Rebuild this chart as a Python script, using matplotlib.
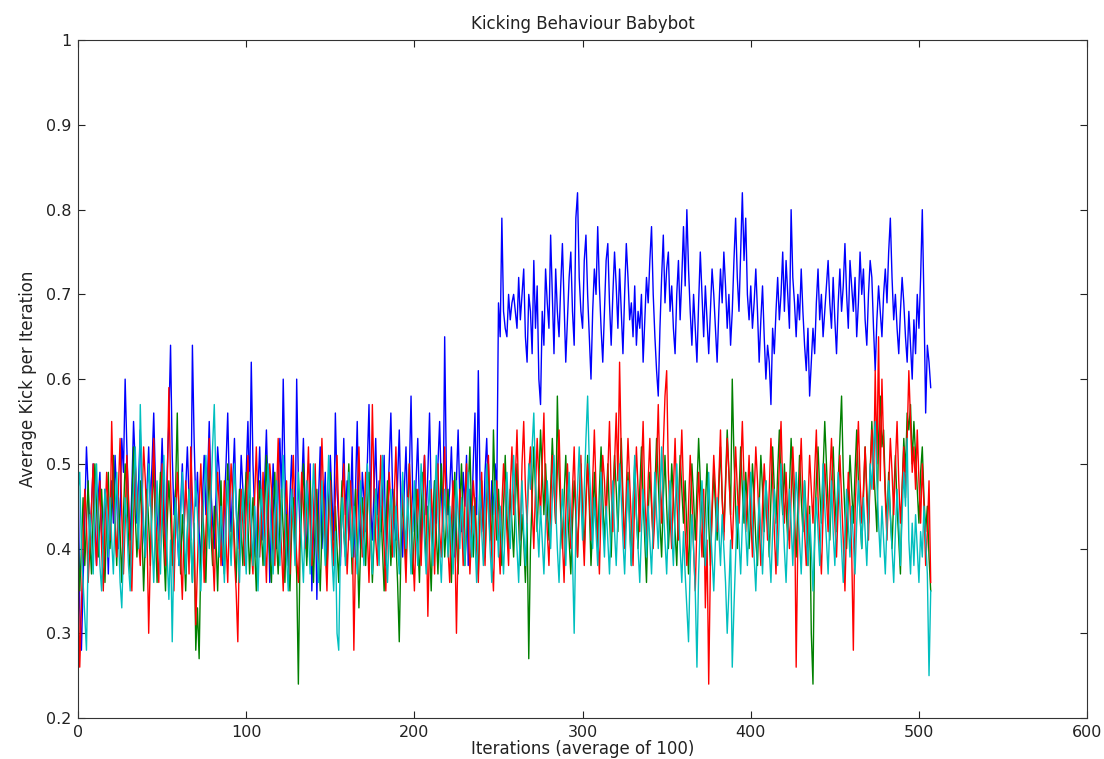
import numpy as np
import matplotlib
matplotlib.use("Agg")
import matplotlib.pyplot as plt

# average kicks per iteration, stored in hundredths
blue_pct = [
    50, 33, 28, 36, 44, 52, 47, 41, 45, 50, 43, 38, 46, 49, 42, 40, 47, 44, 37, 45,
    48, 43, 51, 46, 40, 44, 53, 49, 60, 52, 45, 41, 47, 55, 50, 43, 48, 54, 46, 42,
    39, 47, 52, 45, 50, 56, 48, 44, 41, 47, 53, 46, 40, 49, 55, 64, 51, 44, 47, 42,
    38, 45, 50, 43, 47, 52, 46, 41, 64, 53, 45, 49, 42, 38, 46, 51, 44, 48, 55, 47,
    43, 40, 46, 52, 49, 44, 38, 45, 50, 56, 47, 42, 48, 53, 45, 40, 44, 51, 47, 43,
    49, 55, 46, 62, 50, 44, 39, 47, 52, 45, 41, 48, 54, 46, 36, 43, 50, 45, 40, 47,
    53, 46, 60, 49, 43, 38, 46, 51, 44, 40, 60, 48, 42, 47, 53, 45, 39, 44, 50, 35,
    42, 48, 34, 46, 52, 40, 44, 49, 37, 45, 51, 46, 41, 56, 47, 43, 38, 46, 53, 44,
    48, 41, 45, 52, 39, 47, 55, 44, 40, 49, 46, 42, 50, 57, 45, 41, 47, 53, 44, 48,
    42, 46, 51, 38, 45, 50, 56, 47, 43, 41, 48, 54, 45, 39, 47, 52, 44, 49, 58, 46,
    42, 48, 53, 45, 40, 47, 51, 44, 49, 56, 46, 41, 48, 43, 50, 55, 47, 42, 65, 49,
    44, 47, 52, 45, 39, 48, 54, 46, 42, 49, 45, 51, 38, 47, 43, 50, 56, 44, 61, 48,
    45, 42, 49, 53, 46, 41, 48, 44, 50, 47, 69, 65,
    79, 68, 66, 65, 70, 67, 69, 70, 68, 66, 72, 67, 70, 73, 65, 62, 70, 68, 63, 74,
    66, 71, 60, 57, 68, 64, 73, 69, 66, 77, 70, 63, 73, 68, 65, 71, 76, 69, 62, 67,
    72, 75, 68, 64, 79, 82, 72, 68, 66, 74, 77, 70, 65, 60, 68, 73, 70, 78, 71, 66,
    62, 68, 74, 76, 69, 64, 70, 75, 71, 66, 73, 68, 63, 70, 76, 72, 67, 69, 65, 71,
    64, 68, 66, 70, 62, 67, 72, 69, 74, 78, 70, 65, 61, 58, 66, 72, 77, 69, 73, 75,
    68, 71, 66, 63, 70, 74, 67, 72, 78, 71, 80, 73, 68, 64, 70, 66, 62, 69, 75, 70,
    65, 71, 67, 63, 68, 73, 70, 66, 62, 68, 73, 69, 75, 71, 66, 70, 64, 68, 74, 79,
    72, 68, 75, 82, 74, 79, 70, 67, 71, 66, 69, 73, 68, 62, 67, 71, 65, 60, 64, 62,
    57, 66, 63, 68, 72, 67, 70, 75, 68, 74, 70, 66, 80, 72, 69, 65, 70, 67, 73, 68,
    64, 61, 66, 58, 62, 66, 63, 69, 73, 67, 70, 65, 68, 71, 74, 69, 66, 72, 67, 63,
    69, 73, 68, 71, 76, 70, 66, 74, 71, 68, 72, 65, 69, 75, 70, 73, 67, 64, 70, 74,
    72, 66, 61, 67, 71, 68, 65, 70, 73, 69, 75, 79, 72, 67, 70, 66, 63, 68, 72, 69,
    65, 62, 68, 64, 60, 67, 63, 70, 66, 72, 80, 69, 56, 64, 62, 59,
]

green_pct = [
    42, 35, 40, 46, 38, 43, 48, 41, 37, 44, 50, 45, 39, 43, 47, 42, 36, 44, 49, 40,
    45, 51, 43, 38, 46, 42, 36, 44, 50, 47, 41, 37, 45, 52, 44, 39, 43, 48, 42, 35,
    41, 47, 43, 38, 45, 50, 42, 36, 44, 49, 45, 40, 35, 43, 48, 44, 38, 42, 47, 56,
    43, 37, 44, 40, 35, 42, 47, 41, 36, 43, 28, 33, 27, 39, 45, 41, 36, 44, 50, 42,
    38, 45, 41, 35, 43, 48, 40, 37, 44, 50, 43, 39, 45, 41, 36, 43, 47, 42, 38, 45,
    49, 43, 37, 42, 46, 40, 35, 44, 48, 42, 38, 45, 51, 43, 39, 36, 44, 49, 41, 37,
    43, 47, 42, 36, 44, 39, 35, 42, 46, 41, 37, 24, 40, 45, 50, 43, 38, 44, 48, 41,
    36, 43, 47, 40, 35, 42, 46, 41, 37, 44, 49, 43, 38, 45, 40, 36, 43, 48, 42, 39,
    45, 50, 43, 37, 42, 47, 41, 33, 40, 46, 43, 38, 44, 49, 42, 36, 41, 47, 43, 39,
    45, 40, 35, 42, 48, 44, 38, 43, 47, 41, 36, 29, 40, 46, 42, 38, 45, 50, 43, 37,
    42, 47, 41, 36, 44, 49, 43, 38, 45, 40, 35, 43, 48, 42, 37, 44, 50, 45, 39, 43,
    47, 42, 36, 44, 49, 41, 37, 45, 50, 43, 38, 42, 47, 52, 44, 39, 46, 41, 37, 44,
    48, 43, 39, 45, 50, 44, 40, 54, 46, 41, 47, 42, 38, 45, 51, 44, 40, 47, 43, 39,
    45, 50, 43, 38, 44, 41, 36, 43, 27, 40, 46, 52, 47, 42, 48, 54, 49, 44, 50, 45,
    41, 47, 53, 48, 43, 58, 49, 44, 40, 46, 51, 45, 41, 37, 43, 48, 44, 39, 45, 50,
    44, 40, 46, 51, 45, 38, 43, 49, 44, 40, 47, 52, 46, 41, 45, 50, 44, 39, 46, 51,
    47, 42, 48, 53, 46, 41, 44, 49, 43, 38, 45, 50, 44, 40, 47, 52, 46, 41, 36, 44,
    49, 45, 41, 47, 53, 48, 43, 39, 46, 51, 45, 40, 44, 50, 46, 42, 38, 45, 51, 47,
    43, 48, 42, 37, 44, 50, 46, 41, 47, 53, 48, 44, 39, 45, 50, 43, 38, 44, 49, 45,
    41, 47, 52, 46, 42, 48, 54, 49, 44, 60, 51, 45, 40, 46, 52, 47, 43, 49, 45, 40,
    44, 50, 46, 41, 38, 45, 51, 47, 42, 48, 44, 39, 46, 52, 47, 43, 49, 54, 48, 44,
    50, 45, 41, 47, 53, 48, 43, 39, 45, 51, 46, 42, 48, 44, 38, 45, 30, 24, 42, 48,
    52, 47, 43, 49, 55, 50, 45, 41, 47, 52, 46, 42, 48, 53, 58, 49, 44, 40, 46, 51,
    47, 43, 49, 54, 48, 44, 40, 46, 52, 47, 43, 49, 55, 50, 46, 42, 53, 58, 52, 54,
    47, 43, 49, 44, 40, 46, 51, 45, 41, 37, 47, 53, 49, 56, 54, 57, 50, 55, 51, 47,
    43, 49, 52, 46, 42, 45, 39, 35,
]

red_pct = [
    38, 26, 33, 41, 47, 43, 36, 40, 45, 50, 42, 38, 44, 48, 40, 35, 43, 49, 45, 41,
    55, 46, 42, 39, 47, 53, 44, 37, 43, 51, 46, 40, 35, 44, 50, 47, 41, 38, 45, 52,
    48, 42, 30, 39, 46, 53, 45, 40, 36, 44, 50, 43, 38, 47, 59, 48, 41, 35, 43, 49,
    45, 39, 34, 42, 48, 44, 37, 52, 46, 41, 31, 38, 45, 50, 43, 36, 42, 47, 53, 44,
    40, 35, 43, 49, 45, 38, 42, 48, 41, 36, 44, 50, 46, 39, 35, 29, 41, 47, 43, 38,
    45, 51, 44, 40, 37, 46, 52, 45, 39, 43, 49, 42, 36, 44, 50, 47, 41, 38, 46, 53,
    44, 40, 35, 43, 48, 42, 37, 45, 51, 44, 39, 36, 43, 49, 45, 40, 46, 52, 43, 38,
    44, 50, 41, 37, 45, 53, 46, 40, 35, 43, 48, 42, 38, 46, 51, 44, 39, 45, 50, 43,
    37, 42, 48, 44, 28, 40, 46, 52, 45, 39, 43, 49, 42, 36, 44, 57, 47, 41, 38, 45,
    51, 44, 40, 35, 43, 49, 45, 39, 46, 52, 44, 38, 42, 48, 41, 36, 44, 50, 46, 40,
    35, 42, 47, 43, 38, 45, 51, 44, 32, 41, 47, 43, 37, 45, 50, 42, 39, 46, 52, 44,
    40, 36, 43, 48, 42, 30, 41, 47, 44, 38, 45, 50, 43, 37, 42, 48, 45, 40, 36, 44,
    49, 42, 38, 46, 51, 44, 39, 35, 43, 48, 41, 37, 45, 50, 46, 42, 38, 47, 52, 44,
    48, 54, 46, 41, 50, 55, 47, 43, 49, 52, 45, 40, 47, 53, 48, 44, 50, 56, 46, 42,
    38, 45, 51, 47, 43, 49, 54, 46, 41, 36, 44, 50, 45, 40, 47, 52, 44, 39, 46, 51,
    43, 38, 45, 50, 46, 41, 48, 54, 47, 42, 37, 45, 51, 48, 43, 49, 55, 47, 42, 50,
    56, 48, 62, 51, 45, 40, 47, 53, 48, 43, 38, 46, 52, 47, 42, 49, 55, 46, 41, 48,
    53, 46, 40, 44, 50, 57, 48, 43, 52, 58, 61, 49, 44, 40, 47, 53, 46, 41, 48, 54,
    47, 42, 38, 45, 51, 46, 40, 35, 43, 49, 44, 39, 47, 33, 41, 24, 38, 45, 51, 47,
    42, 48, 54, 46, 41, 47, 53, 49, 44, 40, 46, 52, 47, 43, 49, 55, 48, 42, 46, 51,
    44, 39, 46, 52, 48, 43, 38, 45, 50, 46, 41, 47, 53, 48, 42, 37, 44, 50, 55, 47,
    43, 49, 44, 40, 46, 52, 47, 26, 41, 48, 53, 46, 42, 38, 45, 51, 47, 43, 49, 54,
    46, 41, 37, 44, 50, 46, 42, 48, 53, 47, 43, 39, 45, 51, 46, 41, 35, 43, 49, 45,
    40, 28, 44, 50, 55, 48, 43, 47, 52, 46, 41, 49, 54, 47, 61, 50, 65, 48, 60, 52,
    46, 41, 47, 53, 49, 44, 50, 55, 48, 43, 47, 52, 46, 53, 61, 55, 49, 52, 47, 54,
    48, 43, 50, 45, 38, 42, 48, 36,
]

cyan_pct = [
    47, 49, 40, 36, 32, 28, 39, 44, 41, 37, 45, 50, 43, 38, 35, 42, 47, 44, 39, 46,
    41, 37, 44, 49, 42, 36, 33, 40, 46, 43, 38, 35, 42, 47, 52, 45, 40, 57, 48, 43,
    39, 44, 50, 46, 41, 36, 43, 48, 42, 37, 45, 51, 44, 39, 34, 41, 29, 40, 46, 42,
    38, 44, 49, 43, 37, 42, 47, 41, 36, 43, 48, 44, 39, 35, 42, 47, 51, 45, 40, 46,
    52, 57, 48, 43, 39, 45, 41, 36, 43, 48, 42, 38, 44, 50, 45, 40, 36, 43, 47, 41,
    37, 44, 49, 43, 38, 45, 41, 35, 42, 47, 43, 38, 44, 50, 46, 41, 37, 43, 48, 42,
    38, 45, 51, 44, 39, 35, 42, 47, 43, 38, 44, 49, 45, 40, 36, 43, 48, 42, 37, 44,
    50, 45, 40, 36, 43, 48, 42, 38, 45, 51, 44, 39, 35, 42, 30, 28, 40, 46, 42, 38,
    44, 49, 43, 39, 45, 41, 37, 43, 48, 42, 38, 44, 50, 46, 41, 37, 43, 47, 42, 38,
    45, 51, 44, 40, 36, 42, 47, 43, 39, 45, 41, 37, 43, 49, 44, 40, 46, 42, 37, 43,
    48, 42, 38, 44, 50, 46, 41, 37, 43, 48, 42, 38, 45, 51, 44, 40, 36, 42, 47, 43,
    39, 45, 41, 37, 43, 48, 44, 40, 46, 42, 38, 44, 49, 43, 39, 45, 41, 36, 43, 48,
    42, 38, 44, 50, 45, 40, 36, 43, 48, 44, 39, 45, 41, 37, 43, 49, 44, 40, 46, 51,
    45, 40, 36, 43, 48, 42, 38, 44, 50, 47, 52, 56, 48, 43, 39, 45, 41, 37, 43, 48,
    44, 40, 46, 51, 45, 40, 36, 42, 47, 43, 38, 44, 49, 43, 39, 30, 42, 47, 52, 46,
    41, 47, 53, 58, 50, 45, 40, 46, 42, 38, 44, 49, 43, 39, 45, 41, 37, 43, 48, 42,
    38, 44, 50, 46, 41, 37, 43, 48, 42, 38, 45, 51, 44, 40, 36, 42, 47, 43, 39, 45,
    41, 37, 43, 49, 44, 40, 46, 52, 45, 41, 37, 43, 48, 42, 38, 44, 50, 45, 40, 36,
    42, 37, 33, 29, 38, 44, 40, 35, 26, 37, 43, 48, 42, 38, 44, 49, 43, 39, 35, 41,
    46, 42, 38, 44, 40, 36, 30, 35, 41, 26, 33, 39, 45, 41, 37, 43, 48, 42, 38, 44,
    49, 43, 39, 35, 41, 46, 42, 37, 43, 48, 44, 40, 36, 42, 47, 43, 38, 44, 50, 45,
    40, 36, 42, 47, 43, 38, 44, 49, 45, 41, 37, 43, 48, 42, 38, 44, 40, 35, 41, 46,
    42, 38, 44, 50, 45, 41, 37, 43, 48, 42, 38, 44, 49, 45, 40, 36, 42, 47, 43, 39,
    45, 41, 37, 43, 48, 44, 40, 46, 42, 38, 44, 50, 47, 52, 55, 48, 43, 39, 45, 41,
    37, 43, 48, 44, 40, 36, 42, 47, 43, 38, 44, 49, 45, 53, 41, 37, 43, 38, 44, 40,
    36, 42, 39, 45, 41, 37, 25, 35,
]

series = [
    (blue_pct, "#0000ff"),
    (green_pct, "#008000"),
    (red_pct, "#ff0000"),
    (cyan_pct, "#00bfbf"),
]

plt.rcParams["font.family"] = ["DejaVu Sans"]
fig = plt.figure(figsize=(11.04, 7.59), dpi=100)
ax = fig.add_axes([0.0707, 0.054, 0.914, 0.893])

for vals, col in series:
    y = np.array(vals) / 100.0
    ax.plot(np.arange(len(y)), y, color=col, linewidth=1.0)

ax.set_xlim(0, 600)
ax.set_ylim(0.2, 1.0)
ax.set_xticks(range(0, 601, 100))
ax.set_yticks([0.2, 0.3, 0.4, 0.5, 0.6, 0.7, 0.8, 0.9, 1.0])
ax.set_yticklabels(["0.2", "0.3", "0.4", "0.5", "0.6", "0.7", "0.8", "0.9", "1"])
ax.tick_params(direction="in", top=True, right=True, length=5, width=0.8,
               labelsize=11.5, pad=5, colors="#222222")
for s in ax.spines.values():
    s.set_linewidth(0.8)
    s.set_color("#333333")

ax.set_title("Kicking Behaviour Babybot", fontsize=12, pad=8, color="#222222")
ax.set_xlabel("Iterations (average of 100)", fontsize=12, labelpad=0, color="#222222")
ax.set_ylabel("Average Kick per Iteration", fontsize=12, labelpad=6, color="#222222")

fig.savefig("out.png", dpi=100)
